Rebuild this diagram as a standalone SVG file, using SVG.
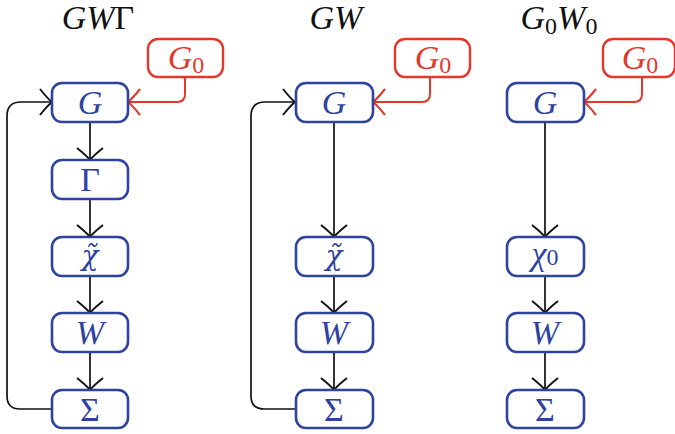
<svg xmlns="http://www.w3.org/2000/svg" width="675" height="434" viewBox="0 0 675 434">
<style>
.box{fill:#fff;stroke:#2e43a0;stroke-width:2.6}
.rbox{fill:#fff;stroke:#e3382c;stroke-width:2.4}
.lbl{font-family:"Liberation Serif",serif;font-size:34px;fill:#2e43a0;text-anchor:middle}
.chi{font-family:"DejaVu Serif",serif;font-size:28px;font-style:italic;fill:#2e43a0;text-anchor:middle}
.rlbl{font-family:"Liberation Serif",serif;font-size:34px;fill:#e3382c;text-anchor:middle}
.ttl{font-family:"Liberation Serif",serif;font-size:34px;fill:#111;text-anchor:middle}
.it{font-style:italic}
.sub{font-size:24px;font-style:normal}
.k{fill:none;stroke:#111;stroke-width:1.7}
.r{fill:none;stroke:#e3382c;stroke-width:2}
</style>
<defs>
<marker id="ak" viewBox="-14 -15 16 30" markerWidth="16" markerHeight="30" refX="0" refY="0" orient="auto" markerUnits="userSpaceOnUse">
<path d="M-12,-13 Q-4,-3 0,0 Q-4,3 -12,13" fill="none" stroke="#111" stroke-width="1.9"/>
</marker>
<marker id="ar" viewBox="-14 -15 16 30" markerWidth="16" markerHeight="30" refX="0" refY="0" orient="auto" markerUnits="userSpaceOnUse">
<path d="M-12,-13 Q-4,-3 0,0 Q-4,3 -12,13" fill="none" stroke="#e3382c" stroke-width="2.1"/>
</marker>
</defs>

<g id="titles">
<text class="ttl" x="98" y="29"><tspan class="it">GW</tspan>Γ</text>
<text class="ttl" x="336" y="29"><tspan class="it">GW</tspan></text>
<text class="ttl" x="559" y="29"><tspan class="it">G</tspan><tspan class="sub" dy="5">0</tspan><tspan class="it" dy="-5">W</tspan><tspan class="sub" dy="5">0</tspan></text>
</g>

<g id="connectors">
<!-- column 1 -->
<path class="k" d="M90,122 V160" marker-end="url(#ak)"/>
<path class="k" d="M90,199 V237" marker-end="url(#ak)"/>
<path class="k" d="M90,276 V313" marker-end="url(#ak)"/>
<path class="k" d="M90,352 V390" marker-end="url(#ak)"/>
<path class="k" d="M52,409 H20 Q7,409 7,396 V116 Q7,102 21,102 H52" marker-end="url(#ak)"/>
<path class="r" d="M185,77 V94 Q185,102 177,102 H128" marker-end="url(#ar)"/>
<!-- column 2 -->
<path class="k" d="M334,122 V237" marker-end="url(#ak)"/>
<path class="k" d="M334,276 V313" marker-end="url(#ak)"/>
<path class="k" d="M334,352 V390" marker-end="url(#ak)"/>
<path class="k" d="M295,409 H264 Q251,409 251,396 V116 Q251,102 265,102 H295" marker-end="url(#ak)"/>
<path class="r" d="M430,77 V94 Q430,102 422,102 H373" marker-end="url(#ar)"/>
<!-- column 3 -->
<path class="k" d="M545,122 V237" marker-end="url(#ak)"/>
<path class="k" d="M545,276 V313" marker-end="url(#ak)"/>
<path class="k" d="M545,352 V390" marker-end="url(#ak)"/>
<path class="r" d="M642,77 V94 Q642,102 634,102 H584" marker-end="url(#ar)"/>
</g>

<!-- column 1 nodes -->
<g id="g0-1"><rect class="rbox" x="148" y="39" width="75" height="38" rx="10"/><text class="rlbl" x="186" y="69"><tspan class="it">G</tspan><tspan class="sub" dy="4">0</tspan></text></g>
<g id="G-1"><rect class="box" x="52" y="83" width="76" height="39" rx="10"/><text class="lbl it" x="90" y="114">G</text></g>
<g id="Gamma-1"><rect class="box" x="52" y="160" width="76" height="39" rx="10"/><text class="lbl" x="90" y="191">Γ</text></g>
<g id="chi-1"><rect class="box" x="52" y="237" width="76" height="39" rx="10"/><text class="chi" x="90" y="265">χ̃</text></g>
<g id="W-1"><rect class="box" x="52" y="313" width="76" height="39" rx="10"/><text class="lbl it" x="90" y="344">W</text></g>
<g id="Sigma-1"><rect class="box" x="52" y="390" width="76" height="38" rx="10"/><text class="lbl" x="90" y="421">Σ</text></g>

<!-- column 2 nodes -->
<g id="g0-2"><rect class="rbox" x="395" y="39" width="75" height="38" rx="10"/><text class="rlbl" x="433" y="69"><tspan class="it">G</tspan><tspan class="sub" dy="4">0</tspan></text></g>
<g id="G-2"><rect class="box" x="296" y="83" width="77" height="39" rx="10"/><text class="lbl it" x="334" y="114">G</text></g>
<g id="chi-2"><rect class="box" x="296" y="237" width="77" height="39" rx="10"/><text class="chi" x="334" y="265">χ̃</text></g>
<g id="W-2"><rect class="box" x="296" y="313" width="77" height="39" rx="10"/><text class="lbl it" x="334" y="344">W</text></g>
<g id="Sigma-2"><rect class="box" x="296" y="390" width="77" height="38" rx="10"/><text class="lbl" x="334" y="421">Σ</text></g>

<!-- column 3 nodes -->
<g id="g0-3"><rect class="rbox" x="603" y="39" width="72" height="38" rx="10"/><text class="rlbl" x="640" y="69"><tspan class="it">G</tspan><tspan class="sub" dy="4">0</tspan></text></g>
<g id="G-3"><rect class="box" x="507" y="83" width="77" height="39" rx="10"/><text class="lbl it" x="545" y="114">G</text></g>
<g id="chi0-3"><rect class="box" x="507" y="237" width="77" height="39" rx="10"/><text class="lbl" x="545" y="265"><tspan class="it">χ</tspan><tspan class="sub">0</tspan></text></g>
<g id="W-3"><rect class="box" x="507" y="313" width="77" height="39" rx="10"/><text class="lbl it" x="545" y="344">W</text></g>
<g id="Sigma-3"><rect class="box" x="507" y="390" width="77" height="38" rx="10"/><text class="lbl" x="545" y="421">Σ</text></g>
</svg>
